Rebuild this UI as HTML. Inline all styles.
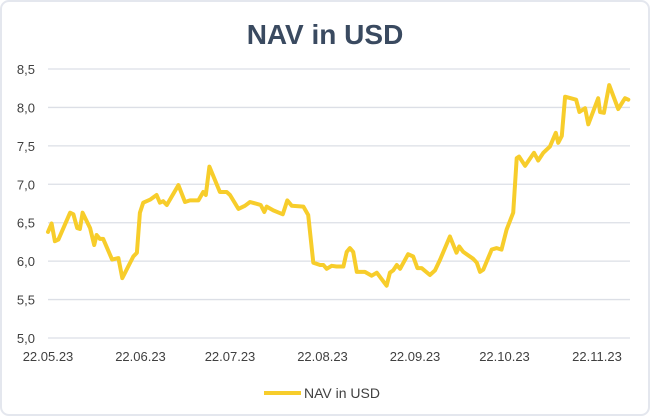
<!DOCTYPE html>
<html><head><meta charset="utf-8"><style>
html,body{margin:0;padding:0;background:#fff;width:650px;height:420px;overflow:hidden;font-family:"Liberation Sans",sans-serif}
</style></head><body>
<svg width="650" height="420" xmlns="http://www.w3.org/2000/svg">
<rect x="1" y="1" width="648" height="414" rx="8" fill="#fff" stroke="#e4e7ee" stroke-width="2"/>
<text x="325" y="44" text-anchor="middle" font-size="28" font-weight="bold" fill="#3a4a60">NAV in USD</text>
<g id="grid"></g><g id="yt"></g><g id="xt"></g>
<path id="line" fill="none" stroke="#f7cd2b" stroke-width="4" stroke-linejoin="round" stroke-linecap="round"/>
<g>
<line x1="264" y1="393" x2="301" y2="393" stroke="#f7cd2b" stroke-width="4"/>
<text x="304" y="398" font-size="14" fill="#404040">NAV in USD</text>
</g>
</svg>
<script>
const yTicks=[5.0,5.5,6.0,6.5,7.0,7.5,8.0,8.5];
const yTickLabels=["5,0","5,5","6,0","6,5","7,0","7,5","8,0","8,5"];
const xTickDays=[0,31,61,92,123,153,184];
const xTickLabels=["22.05.23","22.06.23","22.07.23","22.08.23","22.09.23","22.10.23","22.11.23"];
const days=[0,1.2,2.3,3.5,7.4,8.5,9.8,10.7,11.6,14.1,15.5,16.3,17.4,18.5,21.5,23.6,24.9,28.6,29.8,30.8,31.9,34.2,36.4,37.5,38.6,39.8,43.7,45.9,47.6,50.4,52,52.9,54.1,57.6,59.9,61,63.8,66,67.7,70.5,71.3,72.5,73.3,75.5,78.7,80.2,81.7,85.6,87.2,88.9,91.2,92.3,93.4,95.1,96.7,99,100.1,101.2,102.3,103.5,106.2,108.5,110.2,113.5,114.6,115.7,116.9,118,120.7,122.4,123.8,125.2,128,129.7,131.4,134.7,136.9,137.8,139.2,142.5,143.7,144.8,145.9,148.7,150.4,152,153.7,155.9,157.1,157.9,159.9,162.9,164.3,166,168.2,170.2,171,172.2,173.3,177,178.1,180,181.1,184.4,185,186.3,188.1,191.1,193.4,194.5];
const nav=[6.38,6.49,6.26,6.28,6.63,6.61,6.43,6.42,6.63,6.43,6.21,6.34,6.29,6.29,6.02,6.04,5.78,6.06,6.11,6.63,6.76,6.80,6.86,6.76,6.78,6.73,6.99,6.77,6.79,6.79,6.90,6.86,7.23,6.90,6.90,6.86,6.68,6.72,6.77,6.74,6.73,6.64,6.71,6.66,6.61,6.79,6.72,6.71,6.60,5.98,5.95,5.95,5.90,5.94,5.93,5.93,6.12,6.17,6.12,5.86,5.86,5.81,5.85,5.68,5.85,5.88,5.95,5.90,6.09,6.06,5.91,5.91,5.82,5.88,6.02,6.32,6.11,6.19,6.12,6.03,5.98,5.86,5.89,6.15,6.17,6.15,6.41,6.63,7.34,7.36,7.24,7.41,7.31,7.41,7.49,7.67,7.54,7.63,8.14,8.10,7.94,7.99,7.78,8.12,7.94,7.93,8.29,7.98,8.12,8.10];
const NS="http://www.w3.org/2000/svg";
const X0=48,X1=630,PXD=(597-48)/184;
const xs=d=>X0+d*PXD;
const ys=v=>69+(8.5-v)*(338-69)/3.5;
const grid=document.getElementById('grid'),yt=document.getElementById('yt'),xt=document.getElementById('xt');
yTicks.forEach((t,i)=>{
 const l=document.createElementNS(NS,'line');
 l.setAttribute('x1',X0);l.setAttribute('x2',X1);l.setAttribute('y1',ys(t));l.setAttribute('y2',ys(t));
 l.setAttribute('stroke','#dcdfe6');l.setAttribute('stroke-width','1.3');
 
 
 grid.appendChild(l);
 const tx=document.createElementNS(NS,'text');
 tx.setAttribute('x',35);tx.setAttribute('y',ys(t)+5);tx.setAttribute('text-anchor','end');
 tx.setAttribute('font-size','13');tx.setAttribute('fill','#404040');
 tx.textContent=yTickLabels[i];
 
 
 yt.appendChild(tx);
});
xTickDays.forEach((d,i)=>{
 const tx=document.createElementNS(NS,'text');
 tx.setAttribute('x',xs(d));tx.setAttribute('y',361);tx.setAttribute('text-anchor','middle');
 tx.setAttribute('font-size','13');tx.setAttribute('fill','#404040');
 tx.textContent=xTickLabels[i];
 
 
 xt.appendChild(tx);
});
document.getElementById('line').setAttribute('d',days.map((d,i)=>(i?'L':'M')+xs(d).toFixed(1)+','+ys(nav[i]).toFixed(1)).join(''));
</script>
</body></html>
